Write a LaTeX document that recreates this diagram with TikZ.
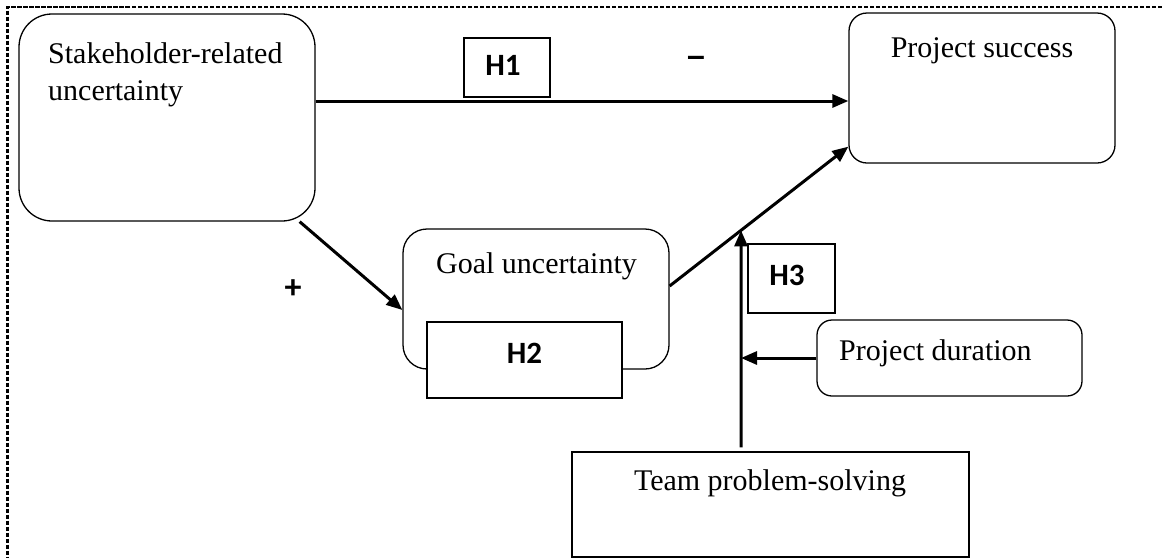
\documentclass[tikz,border=0pt]{standalone}
\usepackage{fontspec}
\setmainfont{Liberation Serif}
\newfontfamily\hfont{Carlito}
\newfontfamily\signfont{Liberation Sans}
\usetikzlibrary{arrows.meta,calc}
\begin{document}
\begin{tikzpicture}[x=1pt,y=-1pt,
  box/.style={draw,line width=1.3pt,inner sep=0pt,fill=white},
  rbox/.style={box,rounded corners=#1},
  txt/.style={font=\fontsize{30}{36}\selectfont,inner sep=0pt},
  hyp/.style={font=\hfont\bfseries\fontsize{31}{37}\selectfont,inner sep=0pt},
  arr/.style={line width=3pt,-{Triangle[length=16pt,width=13pt]}},
  frame/.style={line width=2.6pt,dash pattern=on 4.5pt off 1.5pt}]
\useasboundingbox (0,0) rectangle (1162,558);

% outer dashed frame
\draw[frame] (1162,7) -- (7.5,7) -- (7.5,558);

% boxes
\node[rbox=33pt,minimum width=296pt,minimum height=207pt] (stake) at (167,117.5) {};
\node[rbox=18pt,minimum width=266pt,minimum height=150pt] (succ) at (982,88) {};
\node[rbox=24pt,minimum width=266pt,minimum height=140pt] (goal) at (536,299) {};
\node[box,minimum width=195pt,minimum height=76pt] (h2box) at (524.5,360) {};
\node[box,minimum width=86pt,minimum height=59pt] (h1box) at (507,67.5) {};
\node[box,minimum width=87pt,minimum height=69pt] (h3box) at (791.5,278.5) {};
\node[rbox=15pt,minimum width=265pt,minimum height=76pt] (dur) at (949.5,358) {};
\node[box,minimum width=397pt,minimum height=105pt] (team) at (770.5,504.5) {};

% box texts
\node[txt,anchor=base west] (stakeA) at (48,63) {Stakeholder-related};
\node[txt,anchor=base west] (stakeB) at (48,100) {uncertainty};
\node[txt,anchor=base] (succT) at (982,57) {Project success};
\node[txt,anchor=base] (goalT) at (536.5,273) {Goal uncertainty};
\node[txt,anchor=base west] (durT) at (839,360) {Project duration};
\node[txt,anchor=base] (teamT) at (770,490) {Team problem-solving};

% hypothesis labels and signs
\node[hyp] (h1) at (503,65) {H1};
\node[hyp] (h2) at (524.5,353) {H2};
\node[hyp] (h3) at (787,275) {H3};
\node[inner sep=0pt,font=\signfont\bfseries\fontsize{32}{38}\selectfont] (minus) at (696,61) {–};
\node[hyp,font=\hfont\bfseries\fontsize{34}{40}\selectfont] (plus) at (293,289) {+};

% connectors
\coordinate (s1) at ([yshift=16.5pt]stake.east);
\draw[arr] (s1) -- (s1 -| succ.west);
\draw[arr] ([xshift=-16pt]stake.south east) -- ([yshift=-11pt]goal.west);
\coordinate (g1) at ([yshift=13pt]goal.east);
\coordinate (g2) at ([yshift=17pt]succ.south west);
\draw[arr] (g1) -- (g2);
\coordinate (tb) at ([xshift=-29.5pt,yshift=4pt]team.north);
\coordinate (tt) at (tb |- stake.north);
\coordinate (hit) at (intersection of g1--g2 and tb--tt);
\draw[arr] (tb) -- (hit);
\draw[arr] (dur.west) -- (dur.west -| tb);
\end{tikzpicture}
\end{document}
